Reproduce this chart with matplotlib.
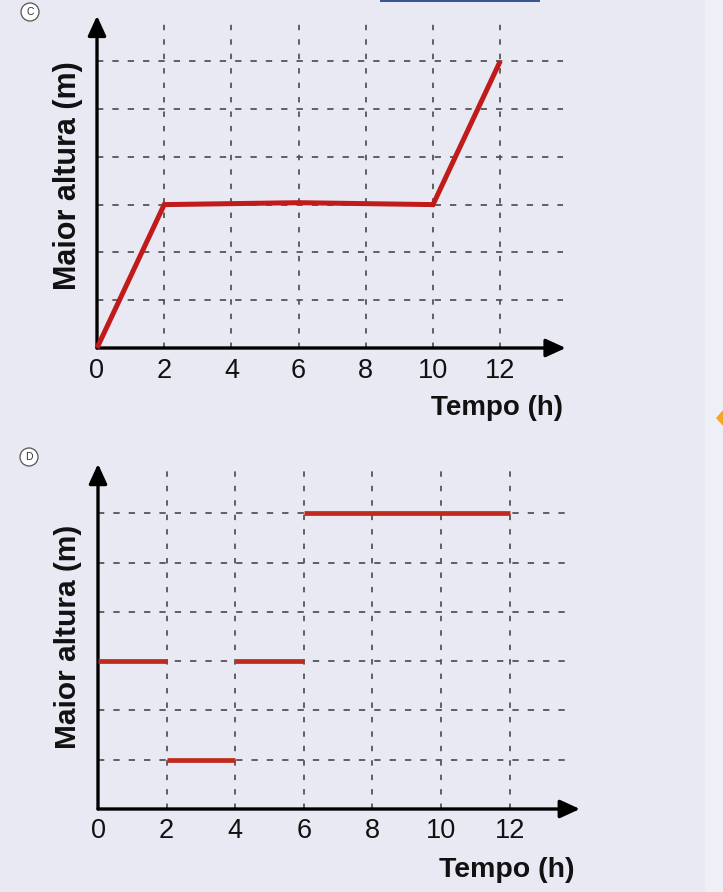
import matplotlib
matplotlib.use("Agg")
import matplotlib.pyplot as plt
from matplotlib.patches import Rectangle, Ellipse, Polygon

# ---------------- data ----------------
x_ticks = [0, 2, 4, 6, 8, 10, 12]
x_tick_labels = ["0", "2", "4", "6", "8", "10", "12"]
grid_levels = [1, 2, 3, 4, 5, 6]

c_time = [0, 2, 6, 10, 12]
c_height = [0, 3, 3.04, 3, 6]

d_start = [0, 2, 4, 6]
d_end = [2, 4, 6, 12]
d_height = [3, 1, 3, 6]

x_label = "Tempo (h)"
y_label = "Maior altura (m)"
panel_labels = ["C", "D"]

# ---------------- style ----------------
W, H = 723, 892
BG = "#e9e9f3"
RED_C = "#c01a1a"
RED_D = "#bf2a1c"
GRID = "#555555"
FONT = ["Liberation Sans", "DejaVu Sans"]

fig = plt.figure(figsize=(W / 100, H / 100), dpi=100)
fig.patch.set_facecolor(BG)

# subtle decorations of the page
fig.add_artist(Rectangle((705 / W, 0), 18 / W, 1, transform=fig.transFigure,
                         facecolor="#efeff7", edgecolor="none", zorder=0))
fig.add_artist(Rectangle((380 / W, 1 - 2 / H), 160 / W, 2 / H, transform=fig.transFigure,
                         facecolor="#3a5590", edgecolor="none", zorder=0))


def make_axes(x0, y0px, px_per_x, px_per_y, xmax, ymax):
    left = x0 / W
    bottom = (H - y0px) / H
    width = xmax * px_per_x / W
    height = ymax * px_per_y / H
    ax = fig.add_axes([left, bottom, width, height])
    ax.set_xlim(0, xmax)
    ax.set_ylim(0, ymax)
    for s in ax.spines.values():
        s.set_visible(False)
    ax.set_xticks([])
    ax.set_yticks([])
    ax.patch.set_alpha(0)
    return ax


def decorate(ax, grid_right, grid_top, arrow_x, arrow_y, tick_dy, xlabel_pos, ylabel_pos,
             tick_fs, xl_fs, yl_fs):
    for yv in grid_levels:
        ax.plot([0, grid_right], [yv, yv], color=GRID, lw=1.3, ls=(0, (3.5, 5)),
                zorder=1, clip_on=False)
    for xv in x_ticks[1:]:
        ax.plot([xv, xv], [0, grid_top], color=GRID, lw=1.3, ls=(0, (3, 5)),
                zorder=1, clip_on=False)
    # axes with arrows
    for tip in [(arrow_x, 0), (0, arrow_y)]:
        ax.annotate("", xy=tip, xytext=(0, 0), xycoords="data",
                    arrowprops=dict(arrowstyle="-|>,head_length=1.2,head_width=0.55",
                                    lw=2.4, color="black", shrinkA=0, shrinkB=0),
                    annotation_clip=False, zorder=3)
    for xv, lab in zip(x_ticks, x_tick_labels):
        ax.annotate(lab, xy=(xv, 0), xytext=(0, -tick_dy), textcoords="offset pixels",
                    ha="center", va="center", fontsize=tick_fs, family=FONT,
                    color="#111111", annotation_clip=False)
    fig.text(xlabel_pos[0] / W, 1 - xlabel_pos[1] / H, x_label, ha="center", va="center",
             fontsize=xl_fs, fontweight="bold", family=FONT, color="#111111")
    fig.text(ylabel_pos[0] / W, 1 - ylabel_pos[1] / H, y_label, ha="center", va="center",
             rotation=90, fontsize=yl_fs, fontweight="bold", family=FONT, color="#111111")


# ---------------- panel C ----------------
axC = make_axes(97, 348, 33.6, 47.8, 14.2, 7.1)
decorate(axC, grid_right=13.87, grid_top=6.9, arrow_x=13.95, arrow_y=6.95,
         tick_dy=23, xlabel_pos=(497, 408), ylabel_pos=(68, 176),
         tick_fs=19.5, xl_fs=20, yl_fs=22)
axC.plot(c_time, c_height, color=RED_C, lw=3.6, solid_capstyle="butt",
         solid_joinstyle="miter", zorder=4, clip_on=False)

# ---------------- panel D ----------------
axD = make_axes(98, 809, 34.3, 49.3, 14.3, 7.1)
decorate(axD, grid_right=13.85, grid_top=6.94, arrow_x=14.05, arrow_y=7.0,
         tick_dy=22, xlabel_pos=(507, 870), ylabel_pos=(68, 637),
         tick_fs=19.5, xl_fs=20.5, yl_fs=21.5)
for s, e, h in zip(d_start, d_end, d_height):
    axD.plot([s, e], [h, h], color=RED_D, lw=3.4, solid_capstyle="butt", zorder=4,
             clip_on=False)

# panel badges
for (cx, cy), letter in zip([(30, 12), (29, 457)], panel_labels):
    fig.add_artist(Ellipse((cx / W, 1 - cy / H), 18 / W, 18 / H, transform=fig.transFigure,
                           facecolor="white", edgecolor="#555555", lw=0.9, zorder=5))
    fig.text(cx / W, 1 - cy / H, letter, ha="center", va="center", fontsize=7.5,
             family=FONT, color="#333333", zorder=6)

# orange marker at right edge (half-visible diamond)
fig.add_artist(Polygon([(716 / W, 1 - 418 / H), (724 / W, 1 - 409 / H),
                        (732 / W, 1 - 418 / H), (724 / W, 1 - 427 / H)],
                       closed=True, transform=fig.transFigure,
                       facecolor="#f5a623", edgecolor="none", zorder=5))

fig.savefig("out.png", dpi=100, facecolor=BG)
